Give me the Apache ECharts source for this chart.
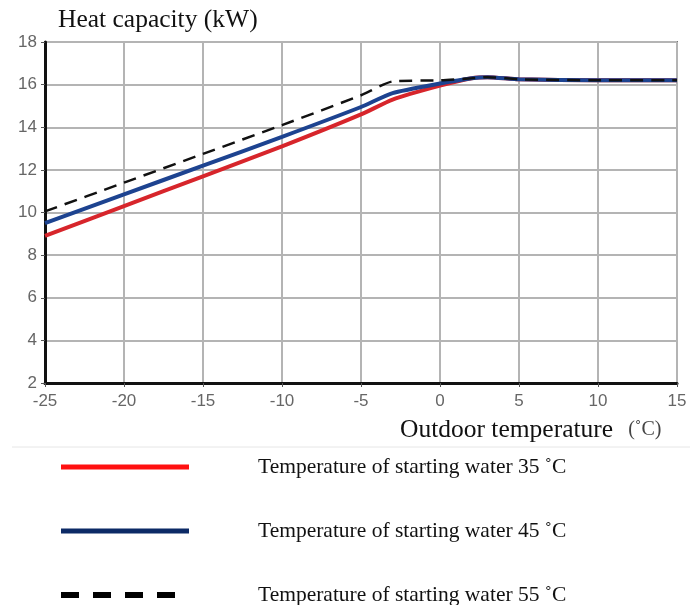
<!DOCTYPE html>
<html>
<head>
<meta charset="utf-8">
<script src="https://cdn.jsdelivr.net/npm/echarts@6/dist/echarts.min.js"></script>
<style>
    html, body { margin: 0; padding: 0; background: #fff; }
    #main { width: 699px; height: 605px; }
</style>
</head>
<body>
<div id="main"></div>
<script>
'use strict'

const temps = [-25, -20, -15, -10, -5, -3, 0, 2, 3, 5, 10, 15]
const water35 = [8.9, 10.3, 11.7, 13.1, 14.6, 15.3, 15.95, 16.3, 16.35, 16.25, 16.2, 16.2]
const water45 = [9.5, 10.85, 12.2, 13.55, 14.95, 15.6, 16.05, 16.3, 16.35, 16.25, 16.2, 16.2]
const water55 = [10.05, 11.4, 12.75, 14.1, 15.5, 16.15, 16.2, 16.3, 16.35, 16.25, 16.2, 16.2]
const names = [
    'Temperature of starting water 35 ˚C',
    'Temperature of starting water 45 ˚C',
    'Temperature of starting water 55 ˚C'
]

function pairs(ys) {
    return temps.map((t, k) => [t, ys[k]])
}

const serif = '"Liberation Serif", "Times New Roman", serif'
const sans = '"Liberation Sans", Arial, sans-serif'
const hidden = { opacity: 0 }

let option = {
    animation: false,
    title: [{
        text: 'Heat capacity (kW)',
        left: 58,
        top: 7,
        padding: 0,
        textStyle: {
            fontFamily: serif,
            fontWeight: 'normal',
            fontSize: 25.5,
            color: '#111'
        }
    }, {
        text: '{a|Outdoor temperature} {b|(˚C)}',
        left: 400,
        top: 417,
        padding: 0,
        textStyle: {
            fontWeight: 'normal',
            rich: {
                a: { fontFamily: serif, fontSize: 25.5, fontWeight: 'normal', color: '#111' },
                b: { fontFamily: serif, fontSize: 20, fontWeight: 'normal', color: '#444', padding: [0, 0, 0, 10] }
            }
        }
    }],
    grid: {
        left: 45,
        right: 22,
        top: 42,
        bottom: 222,
        show: true,
        borderColor: '#777',
        borderWidth: 2
    },
    xAxis: {
        type: 'value',
        min: -25,
        max: 15,
        interval: 5,
        axisLine: { show: true, onZero: false, lineStyle: { color: '#111', width: 3 } },
        axisTick: { show: true, length: 4, lineStyle: { color: '#555' } },
        axisLabel: { color: '#666', fontFamily: sans, fontSize: 17, margin: 10 },
        splitLine: { show: true, lineStyle: { color: '#b4b4b4', width: 2 } }
    },
    yAxis: {
        type: 'value',
        min: 2,
        max: 18,
        interval: 2,
        axisLine: { show: true, onZero: false, lineStyle: { color: '#111', width: 3 } },
        axisTick: { show: true, length: 4, lineStyle: { color: '#555' } },
        axisLabel: { color: '#666', fontFamily: sans, fontSize: 17, margin: 8 },
        splitLine: { show: true, lineStyle: { color: '#b4b4b4', width: 2 } }
    },
    legend: {
        orient: 'vertical',
        left: 58,
        top: 456,
        height: 200,
        padding: 0,
        itemWidth: 128,
        itemHeight: 16,
        itemGap: 42,
        textStyle: {
            fontFamily: serif,
            fontSize: 21.5,
            color: '#111',
            padding: [0, 0, 0, 64]
        },
        data: [
            { name: names[0], itemStyle: hidden, lineStyle: { width: 5, color: '#ff1010', type: 'solid' } },
            { name: names[1], itemStyle: hidden, lineStyle: { width: 5, color: '#0c2a66', type: 'solid' } },
            { name: names[2], itemStyle: hidden, lineStyle: { width: 6, color: '#000', type: [18, 14] } }
        ]
    },
    graphic: [{
        type: 'line',
        shape: { x1: 12, y1: 447, x2: 690, y2: 447 },
        style: { stroke: '#e6e6e6', lineWidth: 1 }
    }],
    series: [{
        name: names[0],
        type: 'line',
        symbol: 'none',
        smooth: 0.2,
        data: pairs(water35),
        lineStyle: { color: '#d7252b', width: 4 },
        z: 2
    }, {
        name: names[1],
        type: 'line',
        symbol: 'none',
        smooth: 0.2,
        data: pairs(water45),
        lineStyle: { color: '#1d4390', width: 4 },
        z: 3
    }, {
        name: names[2],
        type: 'line',
        symbol: 'none',
        smooth: 0.2,
        data: pairs(water55),
        lineStyle: { color: '#111', width: 2.5, type: [13, 8] },
        z: 4
    }]
}

let myChart = echarts.init(document.getElementById('main'))
myChart.setOption(option)
</script>
</body>
</html>
